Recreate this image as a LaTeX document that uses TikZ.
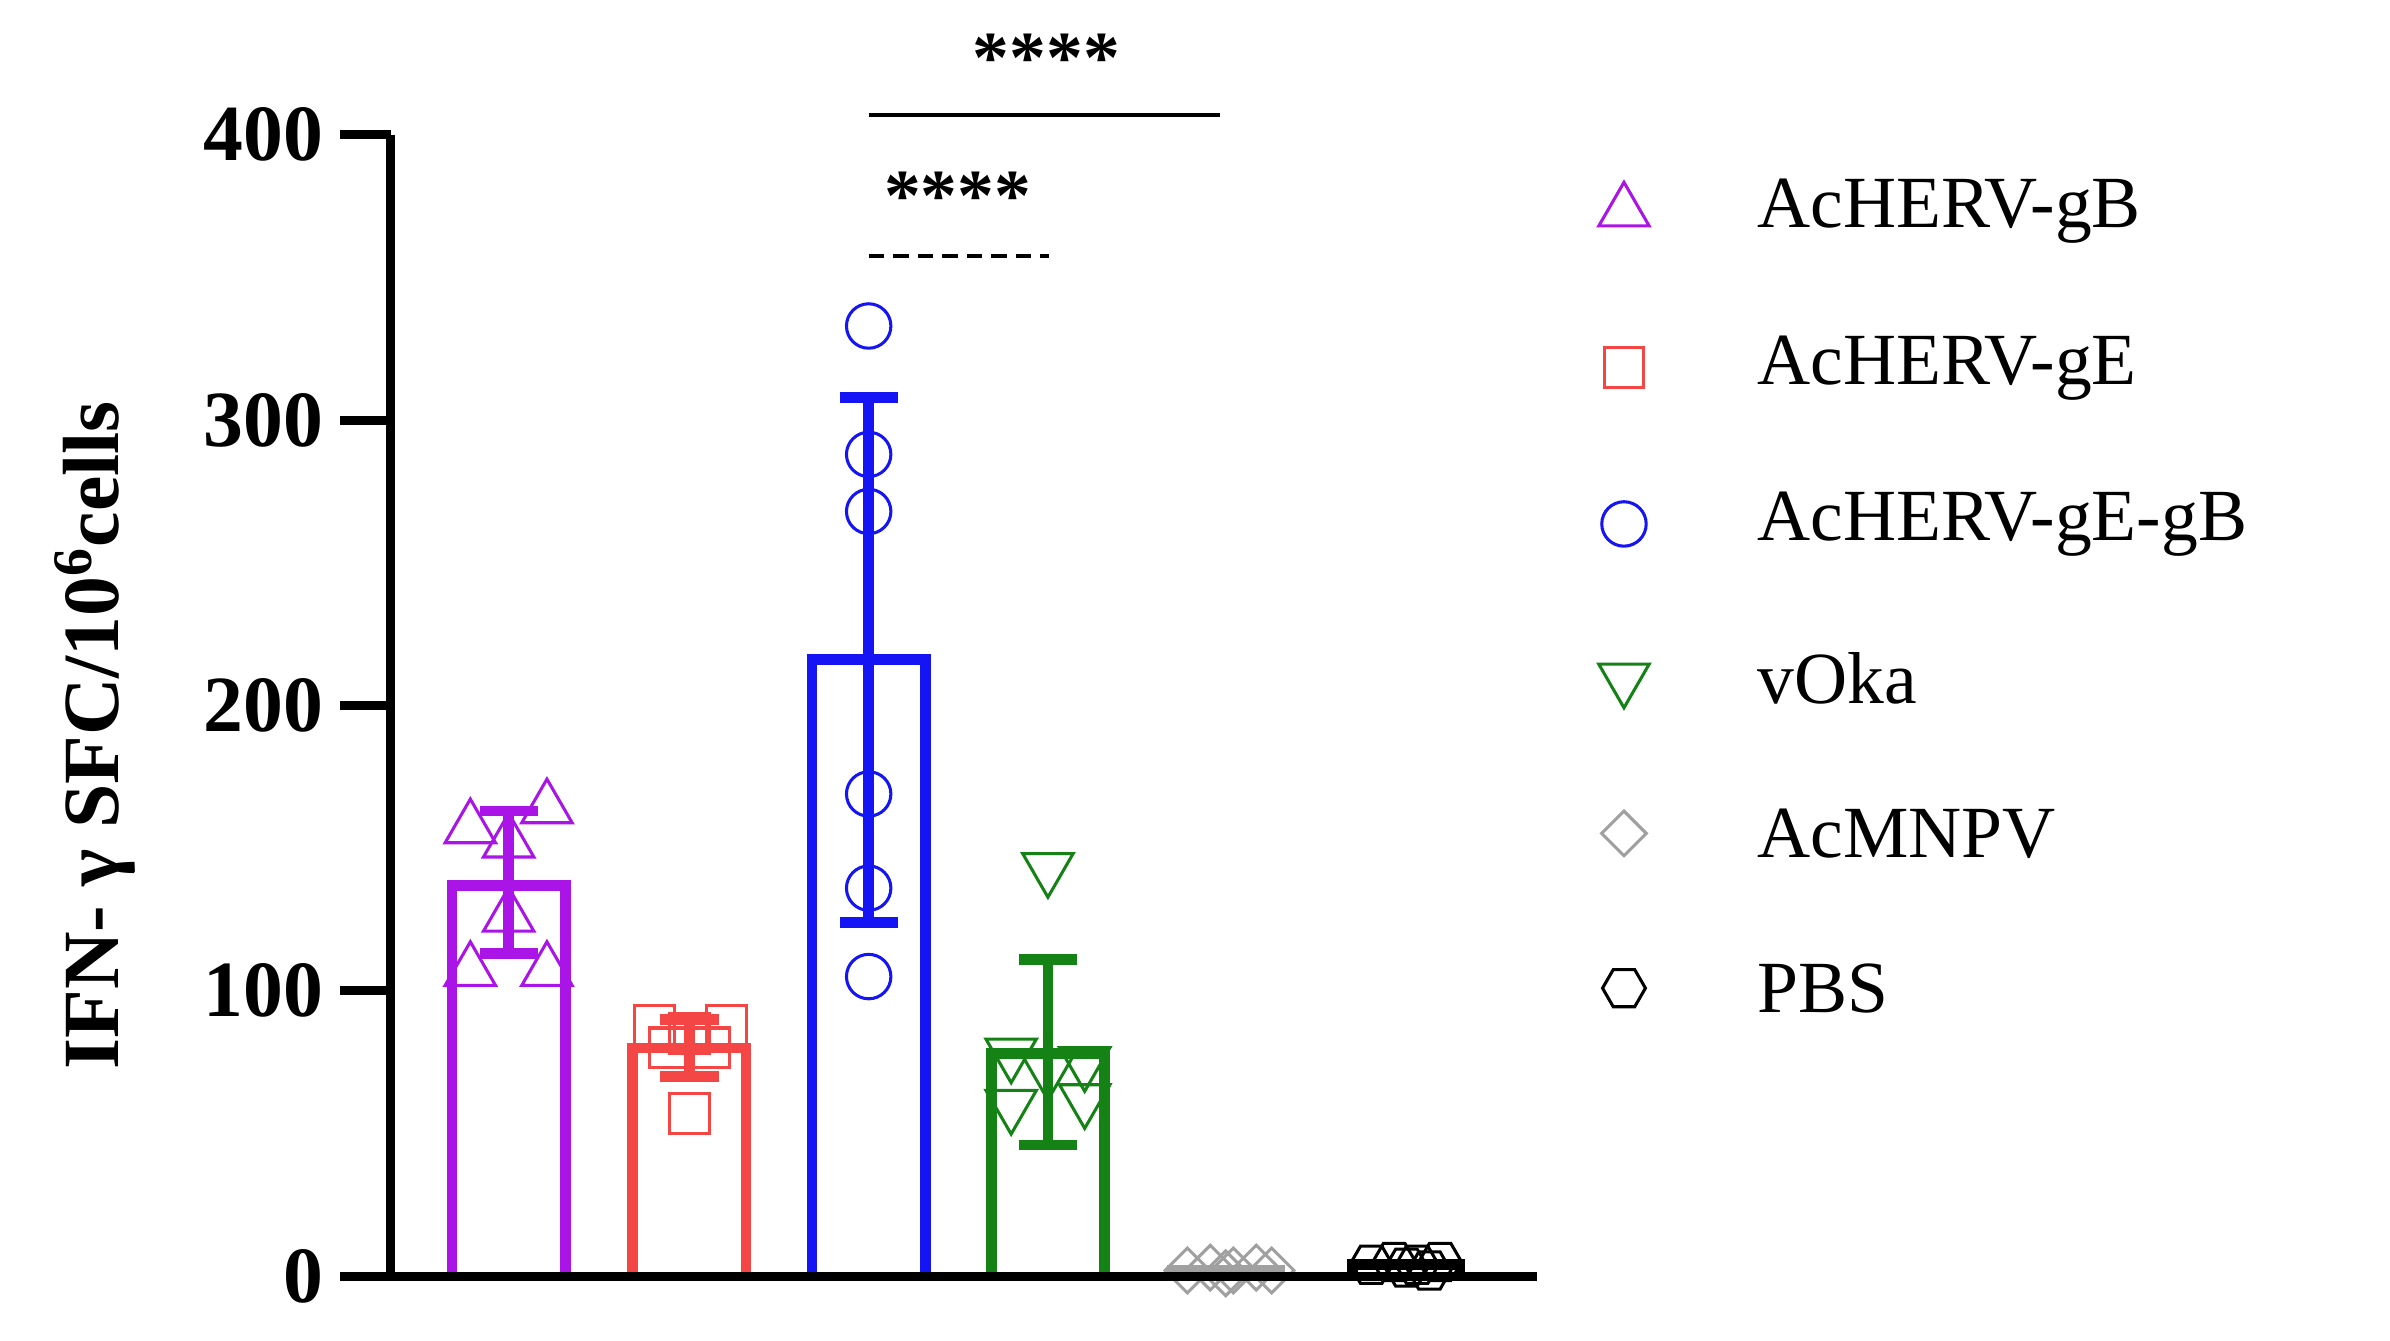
\documentclass[tikz,border=0pt]{standalone}
\usepackage{fontspec}
\setmainfont{Liberation Serif}
\usetikzlibrary{shapes.geometric}
\definecolor{cgb}{RGB}{170,20,230}
\definecolor{cge}{RGB}{245,70,70}
\definecolor{cgg}{RGB}{20,20,245}
\definecolor{cvo}{RGB}{20,130,20}
\definecolor{cmn}{RGB}{160,160,160}
\begin{document}
\begin{tikzpicture}[x=0.5pt,y=-0.5pt,
 bar/.style={line width=3.5pt},
 err/.style={line width=3.5pt},
 tri/.style={regular polygon,regular polygon sides=3,draw,inner sep=0pt,minimum size=19pt,line width=1pt},
 itri/.style={tri,shape border rotate=180},
 sq/.style={rectangle,draw,minimum size=13pt,inner sep=0pt,line width=1pt},
 circ/.style={circle,draw,minimum size=14.5pt,inner sep=0pt,line width=1pt},
 dia/.style={diamond,draw,minimum size=15pt,inner sep=0pt,line width=1pt},
 hexa/.style={regular polygon,regular polygon sides=6,draw,minimum size=14pt,inner sep=0pt,line width=1pt},
 tick/.style={font=\bfseries\fontsize{26}{26}\selectfont,anchor=east},
 leg/.style={font=\fontsize{24}{24}\selectfont,anchor=west},
 stars/.style={font=\bfseries\fontsize{24}{24}\selectfont}]
\useasboundingbox (0,0) rectangle (1560,875.3);
\def\Y#1{833-1.8625*#1}
% bars
\foreach \c/\col/\h in {332/cgb/137,450/cge/80,567/cgg/216,684/cvo/78}{
  \draw[bar,\col] (\c-37,833) -- (\c-37,{\Y{\h}}) -- (\c+37,{\Y{\h}}) -- (\c+37,833);
}
\draw[bar,cmn] (765,833)--(765,{\Y{2}})--(835,{\Y{2}})--(835,833);
\draw[bar,black] (883,833)--(883,{\Y{4}})--(953,{\Y{4}})--(953,833);
% error bars
\foreach \c/\col/\lo/\hi in {332/cgb/113/163,450/cge/70/90,567/cgg/124/308,684/cvo/46/111}{
  \draw[err,\col] (\c,{\Y{\lo}}) -- (\c,{\Y{\hi}});
  \draw[err,\col] (\c-19,{\Y{\lo}}) -- (\c+19,{\Y{\lo}});
  \draw[err,\col] (\c-19,{\Y{\hi}}) -- (\c+19,{\Y{\hi}});
}
% points
\foreach \x/\v in {307/157,357/164,332/152,332/126,307/107,357/107}{\node[tri,cgb] at (\x,{\Y{\v}}) {};}
\foreach \x/\v in {427/88,474/88,450/85,437/80,463/80,450/57}{\node[sq,cge] at (\x,{\Y{\v}}) {};}
\foreach \v in {333,288,268,169,136,105}{\node[circ,cgg] at (567,{\Y{\v}}) {};}
\foreach \x/\v in {684/143,660/78,708/75,684/72,660/60,708/62}{\node[itri,cvo] at (\x,{\Y{\v}}) {};}
\foreach \x/\v in {775/2,790/3,805/2,820/3,800/1,830/2}{\node[dia,cmn] at (\x,{\Y{\v}}) {};}
\foreach \x/\v in {895/4,910/5,925/4,940/5,918/3,933/2}{\node[hexa,black] at (\x,{\Y{\v}}) {};}
% axes
\draw[line width=3pt] (255,88) -- (255,833);
\draw[line width=3pt] (222,833) -- (1003,833);
\foreach \v in {0,100,200,300,400}{
  \draw[line width=3pt] (222,{\Y{\v}}) -- (255,{\Y{\v}});
  \node[tick] at (218,{\Y{\v}}) {\v};
}
\node[rotate=90,font=\bfseries\fontsize{26}{26}\selectfont] at (62,480) {IFN- γ SFC/10\textsuperscript{6}cells};
% significance
\draw[line width=1.5pt] (567,75) -- (796,75);
\node[stars] at (683,38) {****};
\draw[line width=1.5pt,dash pattern=on 5pt off 3pt] (567,167) -- (685,167);
\node[stars] at (625,128) {****};
% legend
\node[tri,cgb] (l1) at (1060,138) {}; \node[leg] at (1140,138) {AcHERV-gB};
\node[sq,cge] (l2) at (1060,240) {}; \node[leg] at (1140,240) {AcHERV-gE};
\node[circ,cgg] (l3) at (1060,342) {}; \node[leg] at (1140,342) {AcHERV-gE-gB};
\node[itri,cvo] (l4) at (1060,443) {}; \node[leg] at (1140,443) {vOka};
\node[dia,cmn] (l5) at (1060,544) {}; \node[leg] at (1140,544) {AcMNPV};
\node[hexa,black] (l6) at (1060,645) {}; \node[leg] at (1140,645) {PBS};
\end{tikzpicture}
\end{document}
